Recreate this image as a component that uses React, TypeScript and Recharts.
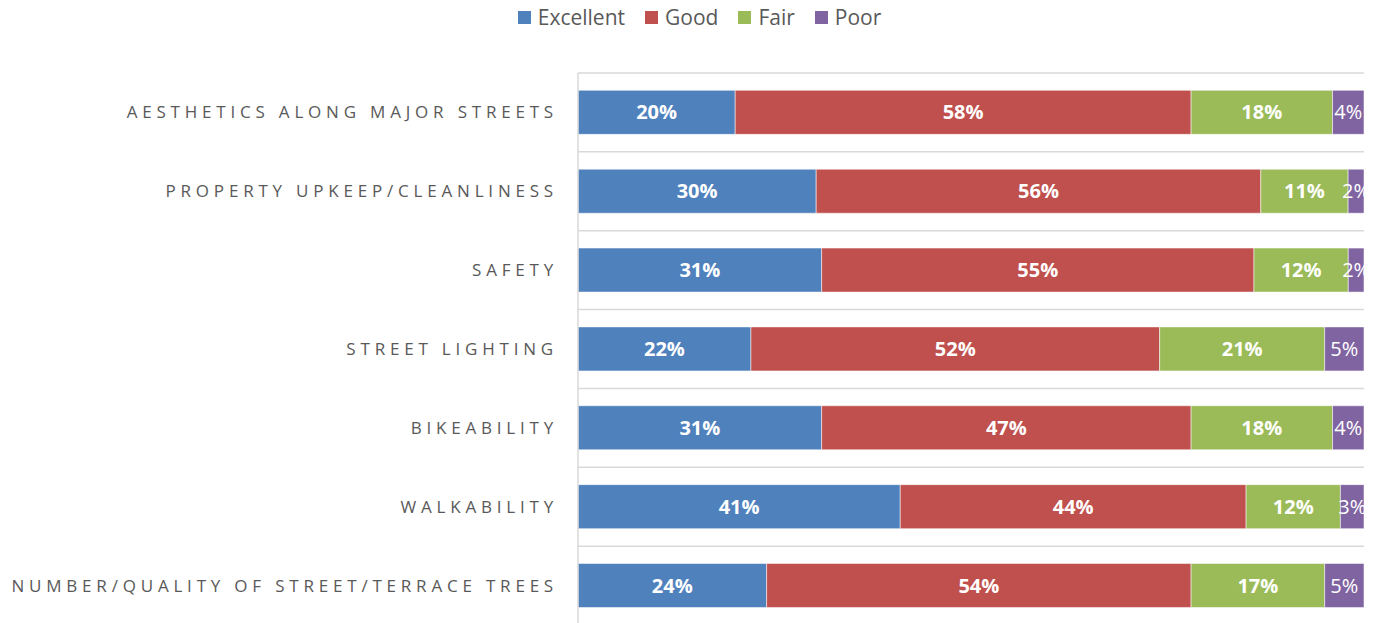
import React from 'react';
import {
  BarChart,
  Bar,
  XAxis,
  YAxis,
  CartesianGrid,
  Legend,
  LabelList,
} from 'recharts';

const categories = [
  'AESTHETICS ALONG MAJOR STREETS',
  'PROPERTY UPKEEP/CLEANLINESS',
  'SAFETY',
  'STREET LIGHTING',
  'BIKEABILITY',
  'WALKABILITY',
  'NUMBER/QUALITY OF STREET/TERRACE TREES',
];
const excellent = [20, 30, 31, 22, 31, 41, 24];
const good = [58, 56, 55, 52, 47, 44, 54];
const fair = [18, 11, 12, 21, 18, 12, 17];
const poor = [4, 2, 2, 5, 4, 3, 5];

const SERIES = [
  { key: 'excellent', name: 'Excellent', color: '#4F81BD', bold: true },
  { key: 'good', name: 'Good', color: '#C0504D', bold: true },
  { key: 'fair', name: 'Fair', color: '#9BBB59', bold: true },
  { key: 'poor', name: 'Poor', color: '#8064A2', bold: false },
];

const data = categories.map((name, i) => ({
  name,
  excellent: excellent[i],
  good: good[i],
  fair: fair[i],
  poor: poor[i],
}));

const FONT = '"Open Sans", "Liberation Sans", sans-serif';

const CategoryTick = (props: any) => {
  const { x, y, payload } = props;
  return (
    <text
      x={x - 12}
      y={y}
      dy={6}
      textAnchor="end"
      fill="#595959"
      fontSize={17}
      fontFamily={FONT}
      letterSpacing={4.8}
    >
      {payload.value}
    </text>
  );
};

const LegendContent = () => (
  <div
    style={{
      display: 'flex',
      justifyContent: 'center',
      fontFamily: FONT,
      fontSize: 21,
      lineHeight: '28px',
      color: '#595959',
      paddingLeft: 25,
    }}
  >
    {SERIES.map((s, i) => (
      <div
        key={s.key}
        style={{ display: 'flex', alignItems: 'center', marginRight: i < SERIES.length - 1 ? 20 : 0 }}
      >
        <span style={{ width: 13, height: 13, background: s.color, marginRight: 7, display: 'inline-block' }} />
        <span>{s.name}</span>
      </div>
    ))}
  </div>
);

// grid lines sit on the band edges, not on the tick centres
const bandEdges = ({ offset }: any) => {
  const n = categories.length;
  const step = offset.height / n;
  return Array.from({ length: n + 1 }, (_, i) => offset.top + i * step);
};

const App = () => {
  return (
    <div style={{ position: 'absolute', left: 0, top: 0, background: '#fff' }}>
      <BarChart
        width={1374}
        height={626}
        data={data}
        layout="vertical"
        stackOffset="expand"
        margin={{ top: 45, right: 10, bottom: 1, left: 0 }}
        barCategoryGap="22%"
      >
        <CartesianGrid
          vertical={false}
          stroke="#D9D9D9"
          strokeWidth={1.5}
          horizontalCoordinatesGenerator={bandEdges}
        />
        <XAxis type="number" hide domain={[0, 1]} />
        <YAxis
          type="category"
          dataKey="name"
          width={578}
          axisLine={{ stroke: '#D9D9D9', strokeWidth: 1.5 }}
          tickLine={false}
          tick={<CategoryTick />}
          interval={0}
        />
        <Legend
          verticalAlign="top"
          content={<LegendContent />}
          wrapperStyle={{ top: 3, left: 0, width: 1374 }}
        />
        {SERIES.map((s) => (
          <Bar
            key={s.key}
            dataKey={s.key}
            name={s.name}
            stackId="a"
            fill={s.color}
            stroke="#ffffff"
            strokeOpacity={0.5}
            strokeWidth={1}
            isAnimationActive={false}
          >
            <LabelList
              dataKey={s.key}
              position="center"
              formatter={(v: any) => `${v}%`}
              fill="#ffffff"
              fontSize={20}
              fontWeight={s.bold ? 700 : 400}
              fontFamily={FONT}
            />
          </Bar>
        ))}
      </BarChart>
    </div>
  );
};

export default App;
